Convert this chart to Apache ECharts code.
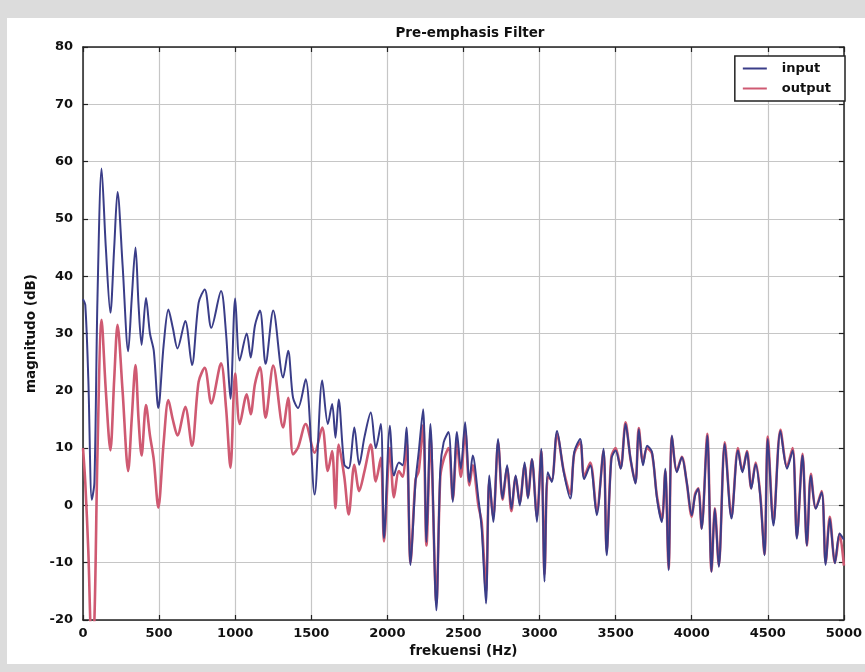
<!DOCTYPE html>
<html>
<head>
<meta charset="utf-8">
<script src="https://cdn.jsdelivr.net/npm/echarts@6/dist/echarts.min.js"></script>
<style>
html,body{margin:0;padding:0;background:#dcdcdc;}
#chart{width:865px;height:672px;}
</style>
</head>
<body>
<div id="chart"></div>
<script>
// ---- data ----
const chartTitle = 'Pre-emphasis Filter';
const xAxisName = 'frekuensi (Hz)';
const yAxisName = 'magnitudo (dB)';
const seriesNames = ['input', 'output'];
const xTicks = [0, 500, 1000, 1500, 2000, 2500, 3000, 3500, 4000, 4500, 5000];
const yTicks = [-20, -10, 0, 10, 20, 30, 40, 50, 60, 70, 80];

const freqHz = [
  0, 15, 35, 58, 75, 95, 122, 150, 180, 205, 227, 260, 297, 320, 345, 365, 385, 414, 440, 465,
  495, 530, 561, 590, 621, 672, 716, 760, 800, 843, 907, 940, 969, 1000, 1030, 1076, 1102, 1130, 1163, 1200,
  1250, 1315, 1348, 1380, 1413, 1463, 1522, 1572, 1609, 1637, 1659, 1680, 1717, 1746, 1783, 1815, 1850, 1891, 1924, 1957,
  1978, 2017, 2043, 2076, 2100, 2126, 2152, 2185, 2206, 2235, 2257, 2283, 2322, 2348, 2370, 2402, 2430, 2457, 2483, 2511,
  2539, 2561, 2598, 2620, 2648, 2670, 2696, 2728, 2757, 2787, 2815, 2843, 2870, 2902, 2924, 2950, 2983, 3011, 3033, 3054,
  3080, 3115, 3159, 3202, 3228, 3267, 3293, 3333, 3376, 3420, 3441, 3472, 3500, 3533, 3565, 3598, 3630, 3652, 3680, 3707,
  3739, 3772, 3804, 3826, 3848, 3870, 3902, 3935, 3967, 4000, 4022, 4043, 4065, 4102, 4130, 4152, 4178, 4217, 4261, 4304,
  4333, 4363, 4391, 4420, 4450, 4478, 4500, 4537, 4583, 4626, 4663, 4691, 4728, 4757, 4783, 4815, 4854, 4880, 4907, 4941,
  4972, 5000
];

const inputDb = [
  36, 35, 22, 1, 4, 36, 58.8, 45, 33.6, 45, 54.7, 42, 26.9, 36, 45, 35, 28, 36.2, 30, 27,
  17, 28, 34.2, 31, 27.4, 32.2, 24.5, 35.4, 37.7, 31, 37.4, 30, 18.6, 36.1, 25.3, 30, 25.8, 31.4, 34, 24.7,
  34, 22.3, 27, 18.8, 17, 22, 1.9, 21.8, 14.2, 17.7, 11.8, 18.5, 7.1, 6.5, 13.6, 7.1, 12, 16.2, 10, 14.2,
  -5.7, 13.9, 5.2, 7.5, 7, 13.6, -10.4, 4.1, 9.3, 16.8, -6.4, 14.2, -18.3, 6.4, 11, 12.8, 0.6, 12.8, 6.4, 14.5,
  4.1, 8.7, 1.2, -4.1, -17.1, 5.2, -2.9, 11.6, 1.2, 7, -0.6, 5.2, 0, 7.5, 1.2, 8.1, -2.9, 9.9, -13.3, 5.8,
  4.1, 13, 5.8, 1.2, 9.3, 11.6, 4.6, 7, -1.7, 9.9, -8.7, 8.1, 9.6, 6.4, 14.2, 8.1, 3.8, 13.3, 7, 10.4,
  9.3, 1.2, -2.9, 6.4, -11.3, 12.2, 5.8, 8.4, 4.1, -1.7, 1.7, 2.9, -4.1, 12.2, -11.6, -0.6, -10.7, 10.7, -2.3, 9.6,
  5.8, 9.3, 2.9, 7.2, 1.7, -8.7, 11.6, -3.5, 13, 6.4, 9.6, -5.8, 8.7, -7, 5.2, -0.6, 2.3, -10.4, -2.3, -10.1,
  -4.9, -6
];

const outputDb = [
  10, 4, -8, -25, -20, 9, 32.4, 20, 9.6, 22, 31.5, 20, 6, 15, 24.5, 15, 8.7, 17.5, 12.2, 8,
  -0.4, 11, 18.4, 15, 12.2, 17.2, 10.4, 21.6, 24, 17.8, 24.8, 17, 6.6, 23, 14.2, 19.4, 15.9, 21.2, 24.1, 15.3,
  24.4, 13.6, 18.8, 8.9, 10.1, 14.2, 9.2, 13.6, 6, 9.5, -0.5, 10.6, 5, -1.6, 7.1, 2.5, 6, 10.6, 4.2, 8.3,
  -6.3, 10, 1.4, 6, 5, 11, -10, 4.5, 6, 14, -7, 12, -17, 5, 8, 10, 1, 11, 5, 13,
  3.5, 7, 0, -3, -15, 4, -2, 11, 1, 6.5, -1, 5, 0.5, 7, 1.5, 8, -2, 9.5, -12, 5,
  4.5, 12.5, 6, 2, 9, 11, 5, 7.5, -1, 9.5, -8, 8.5, 10, 6.5, 14.5, 8, 4, 13.5, 7.5, 10,
  9, 1.5, -2.5, 6, -11, 12, 6, 8.5, 4, -2, 2, 3, -4, 12.5, -11.5, -0.5, -10.5, 11, -2, 10,
  6, 9.5, 3, 7.5, 2, -8.5, 12, -3, 13.2, 6.8, 10, -5.5, 9, -7, 5.5, -0.5, 2.5, -10, -2, -10,
  -5, -10.5
];

const inputColor = '#3a3d88';
const outputColor = '#cf5a72';

const inputData = freqHz.map((f, i) => [f, inputDb[i]]);
const outputData = freqHz.map((f, i) => [f, outputDb[i]]);

const chart = echarts.init(document.getElementById('chart'));
const labelFont = { fontFamily: 'DejaVu Sans', fontWeight: 'bold', fontSize: 13, color: '#111' };
const nameFont = { fontFamily: 'DejaVu Sans', fontWeight: 'bold', fontSize: 13.5, color: '#111' };

const gridL = 83, gridR = 17, gridT = 47, gridB = 52;

function xAx(pos, showLabel) {
  return {
    type: 'value', position: pos, min: xTicks[0], max: xTicks[xTicks.length - 1], interval: 500,
    axisLine: { show: true, onZero: false, lineStyle: { color: '#222', width: 1.5 } },
    axisTick: { show: true, inside: true, length: 5, lineStyle: { color: '#222', width: 1.2 } },
    axisLabel: Object.assign({ show: showLabel, margin: 7, formatter: v => String(v) }, labelFont),
    splitLine: { show: showLabel, lineStyle: { color: '#c6c6c6', width: 1.2 } },
    name: showLabel ? xAxisName : '', nameLocation: 'middle', nameGap: 24,
    nameTextStyle: nameFont
  };
}
function yAx(pos, showLabel) {
  return {
    type: 'value', position: pos, min: yTicks[0], max: yTicks[yTicks.length - 1], interval: 10,
    axisLine: { show: true, onZero: false, lineStyle: { color: '#222', width: 1.5 } },
    axisTick: { show: true, inside: true, length: 5, lineStyle: { color: '#222', width: 1.2 } },
    axisLabel: Object.assign({ show: showLabel, margin: 10, formatter: v => String(v) }, labelFont),
    splitLine: { show: showLabel, lineStyle: { color: '#c6c6c6', width: 1.2 } },
    name: showLabel ? yAxisName : '', nameLocation: 'middle', nameGap: 40,
    nameTextStyle: nameFont
  };
}

chart.setOption({
  animation: false,
  backgroundColor: '#dcdcdc',
  graphic: [{
    type: 'rect', left: 7, top: 18, z: -10,
    shape: { width: 858, height: 646 },
    style: { fill: '#ffffff' }
  }],
  title: {
    text: chartTitle, left: 465, top: 21, textAlign: 'center',
    textStyle: { fontFamily: 'DejaVu Sans', fontWeight: 'bold', fontSize: 13.5, color: '#111' }
  },
  legend: {
    data: seriesNames, orient: 'vertical', right: 20, top: 56,
    backgroundColor: '#fff', borderColor: '#222', borderWidth: 1.5, borderRadius: 0,
    padding: [6, 14, 6, 8], itemGap: 7, itemWidth: 24, itemHeight: 2,
    icon: 'rect',
    textStyle: { fontFamily: 'DejaVu Sans', fontWeight: 'bold', fontSize: 13, color: '#111', padding: [0, 0, 0, 10] }
  },
  grid: { left: gridL, right: gridR, top: gridT, bottom: gridB, containLabel: false },
  xAxis: [xAx('bottom', true), xAx('top', false)],
  yAxis: [yAx('left', true), yAx('right', false)],
  series: [
    {
      name: 'output', type: 'line', data: outputData, xAxisIndex: 0, yAxisIndex: 0,
      showSymbol: false, smooth: 0.3, z: 2,
      lineStyle: { color: outputColor, width: 2.6 }, itemStyle: { color: outputColor }
    },
    {
      name: 'input', type: 'line', data: inputData, xAxisIndex: 0, yAxisIndex: 0,
      showSymbol: false, smooth: 0.3, z: 3,
      lineStyle: { color: inputColor, width: 2 }, itemStyle: { color: inputColor }
    }
  ]
});
</script>
</body>
</html>
